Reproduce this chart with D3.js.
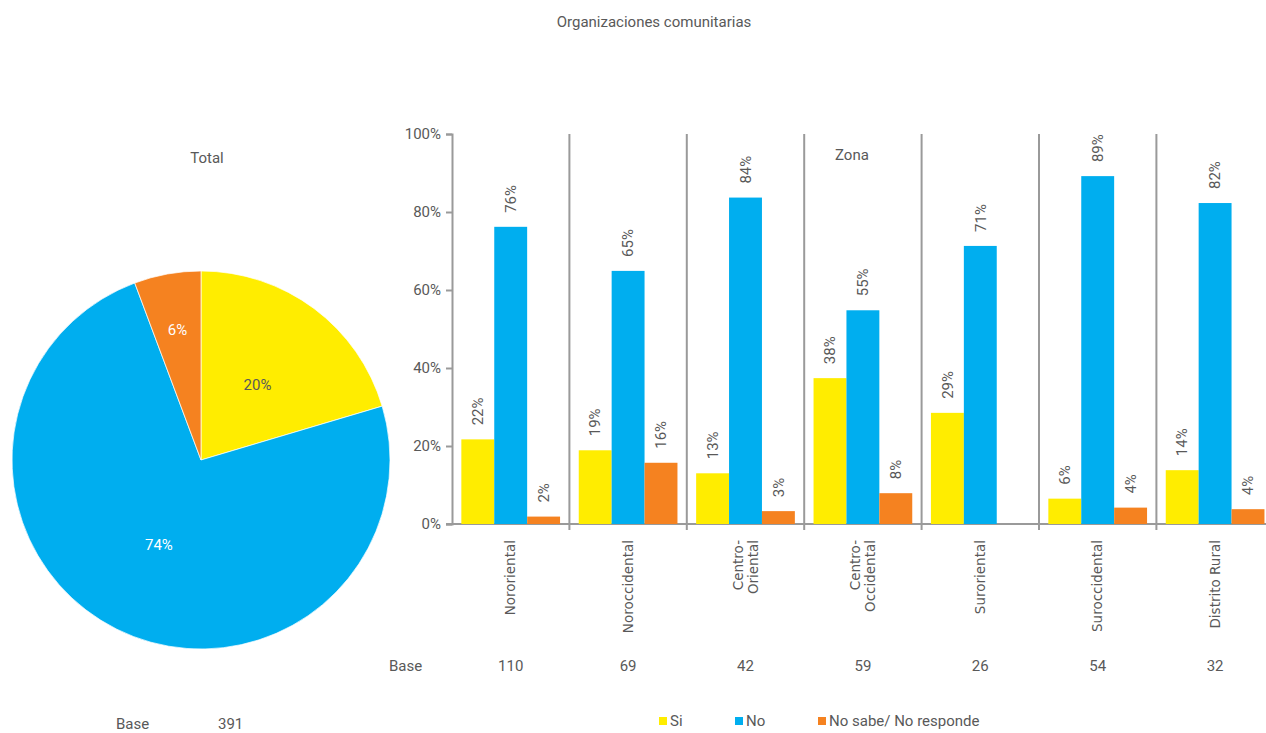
<!DOCTYPE html>
<html><head><meta charset="utf-8">
<script src="https://cdn.jsdelivr.net/npm/d3@7"></script>
<style>
body{margin:0;background:#fff;}
svg text{font-family:Roboto,"Noto Sans",sans-serif;fill:#595959;}
</style></head>
<body><svg id="c" width="1266" height="733"></svg>
<script>
const title = "Organizaciones  comunitarias";
const seriesNames = ["Si","No","No sabe/ No responde"];
const seriesColors = ["#FFED00","#00AEEF","#F58220"];
const pieValues = [20.4, 73.9, 5.7];
const pieLabels = ["20%","74%","6%"];
const pieBase = 391;
const categories = ["Nororiental","Noroccidental","Centro-\nOriental","Centro-\nOccidental","Suroriental","Suroccidental","Distrito Rural"];
const siValues = [21.7,18.9,13.0,37.4,28.5,6.5,13.8];
const noValues = [76.2,64.9,83.7,54.8,71.3,89.2,82.3];
const nsValues = [1.9,15.7,3.3,7.9,0,4.2,3.8];
const siLabels = ["22%","19%","13%","38%","29%","6%","14%"];
const noLabels = ["76%","65%","84%","55%","71%","89%","82%"];
const nsLabels = ["2%","16%","3%","8%","","4%","4%"];
const bases = [110,69,42,59,26,54,32];
const yTicks = [0,20,40,60,80,100];

const svg = d3.select("#c");
const grey = "#9a9a9a";

svg.append("text").attr("x",654).attr("y",27).attr("text-anchor","middle")
  .style("font-size","15px").text(title);

// ---- Pie ----
const cx = 201, cy = 460, R = 189;
const pie = d3.pie().sort(null).value(d=>d)(pieValues);
const arc = d3.arc().innerRadius(0).outerRadius(R);
const pg = svg.append("g").attr("transform",`translate(${cx},${cy})`);
pg.selectAll("path").data(pie).join("path").attr("d",arc)
  .attr("fill",(d,i)=>seriesColors[i]).attr("stroke","#fff").attr("stroke-width",0.7);
const labR = [0.5,0.5,0.7];
const labColor = ["#595959","#fff","#fff"];
pg.selectAll("text.pl").data(pie).join("text").attr("class","pl")
  .attr("transform",(d,i)=>{const a=(d.startAngle+d.endAngle)/2, r=R*labR[i]; return `translate(${Math.sin(a)*r},${-Math.cos(a)*r})`;})
  .attr("text-anchor","middle").attr("dy","0.35em").style("font-size","15px")
  .style("fill",(d,i)=>labColor[i]).text((d,i)=>pieLabels[i]);
svg.append("text").attr("x",207).attr("y",163).attr("text-anchor","middle").style("font-size","15px").text("Total");
svg.append("text").attr("x",116).attr("y",729).style("font-size","15px").text("Base");
svg.append("text").attr("x",218).attr("y",729).style("font-size","15px").text(pieBase);

// ---- Bars ----
const x0 = d3.scaleBand().domain(categories).range([452, 452+7*117.4]).padding(0);
const x1 = d3.scaleBand().domain(seriesNames).range([0, x0.bandwidth()]).paddingInner(0).paddingOuter(0.284);
const y = d3.scaleLinear().domain([0,100]).range([524,134]);
const seriesVals = [siValues, noValues, nsValues];
const seriesLabs = [siLabels, noLabels, nsLabels];

// separators
svg.append("g").selectAll("line").data(categories.slice(1).concat(["_end"])).join("line")
  .attr("x1",(d,i)=>452+(i+1)*x0.step()).attr("x2",(d,i)=>452+(i+1)*x0.step())
  .attr("y1",y(100)).attr("y2",y(0)+6).attr("stroke",grey).attr("stroke-width",2);

const ya = svg.append("g").attr("transform","translate(452,0)")
  .call(d3.axisLeft(y).tickValues(yTicks).tickFormat(d=>d+"%").tickSize(6).tickPadding(5));
ya.select(".domain").attr("stroke",grey).attr("stroke-width",2);
ya.selectAll(".tick line").attr("stroke",grey).attr("stroke-width",2);
ya.selectAll(".tick text").style("font-size","15px").style("font-family","Roboto,sans-serif").attr("fill","#595959");

svg.append("line").attr("x1",446).attr("x2",1266).attr("y1",y(0)).attr("y2",y(0))
  .attr("stroke",grey).attr("stroke-width",2);

categories.forEach((cat,ci)=>{
  const g = svg.append("g").attr("transform",`translate(${x0(cat)},0)`);
  seriesNames.forEach((s,si)=>{
    const v = seriesVals[si][ci];
    if (v>0) g.append("rect").attr("x",x1(s)).attr("width",x1.bandwidth())
      .attr("y",y(v)).attr("height",y(0)-y(v)).attr("fill",seriesColors[si]);
    const lab = seriesLabs[si][ci];
    if (lab) g.append("text").attr("transform",`translate(${x1(s)+x1.bandwidth()/2},${y(v)-14}) rotate(-90)`)
      .attr("dy","0.35em").style("font-size","15px").text(lab);
  });
  const lines = cat.split("\n");
  const t = svg.append("text").attr("transform",`translate(${x0(cat)+x0.bandwidth()/2},540) rotate(-90)`)
    .attr("text-anchor","end").style("font-family","'DejaVu Sans',sans-serif").style("font-size","13.5px");
  lines.forEach((l,li)=>{
    t.append("tspan").attr("x",0).attr("y",(li-(lines.length-1)/2)*15).attr("dy","0.35em").text(l);
  });
  svg.append("text").attr("x",x0(cat)+x0.bandwidth()/2).attr("y",671).attr("text-anchor","middle")
    .style("font-size","15px").text(bases[ci]);
});
svg.append("text").attr("x",389).attr("y",671).style("font-size","15px").text("Base");
svg.append("text").attr("x",835).attr("y",160).style("font-size","15px").text("Zona");

// legend
const legX = [659, 735, 818];
seriesNames.forEach((s,i)=>{
  svg.append("rect").attr("x",legX[i]).attr("y",717).attr("width",8).attr("height",8).attr("fill",seriesColors[i]);
  svg.append("text").attr("x",legX[i]+11).attr("y",726).style("font-size","15px").text(s);
});
</script></body></html>
